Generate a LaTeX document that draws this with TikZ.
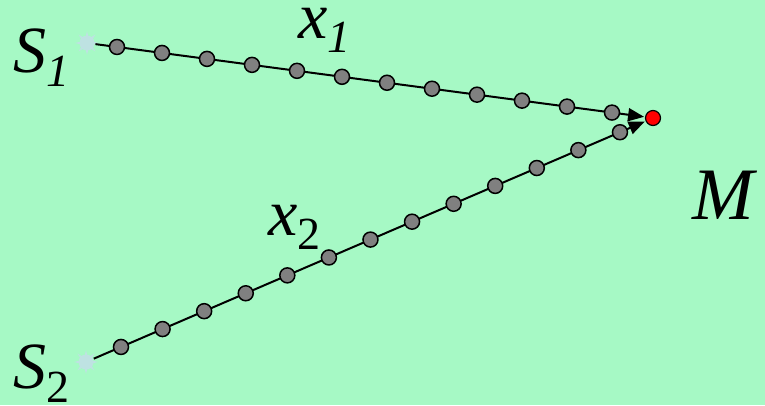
\documentclass[tikz,border=0pt]{standalone}
\usepackage{fontspec}
\setmainfont{Liberation Serif}
\usetikzlibrary{calc,arrows.meta}
\definecolor{bg}{RGB}{166,249,197}
\definecolor{starc}{RGB}{190,226,226}
\definecolor{dotc}{RGB}{128,128,128}
\tikzset{
  lab/.style={inner sep=0pt, font=\fontsize{66}{66}\selectfont},
  src/.style={circle, fill=starc, minimum size=15pt, inner sep=0pt, outer sep=1pt},
  bead/.style={circle, draw=black, line width=1.5pt, fill=dotc, minimum size=15pt, inner sep=0pt},
  ray/.style={fill=starc},
  conn/.style={draw=black, line width=2pt, -{Triangle[length=16pt,width=13pt]}},
  target/.style={circle, draw=black, line width=1.2pt, fill=red, minimum size=15pt, inner sep=0pt, outer sep=1.5pt}
}
\newcommand{\sub}[1]{\raisebox{-14pt}{\fontsize{46}{46}\selectfont #1}}
\begin{document}
\begin{tikzpicture}[x=1pt,y=-1pt]
\fill[bg] (0,0) rectangle (765,405);
\useasboundingbox (0,0) rectangle (765,405);
% sources
\foreach \n/\px/\py in {s1/87/43, s2/86/362}{
  \foreach \a in {0,45,...,315}{
    \fill[ray] ($(\px,\py)+(\a+14:6)$) -- ($(\px,\py)+(\a:12)$) -- ($(\px,\py)+(\a-14:6)$) -- cycle;
  }
  \node[src] (\n) at (\px,\py) {};
}
\node[target] (m) at (653,118) {};
% connectors
\draw[conn] (s1) -- (m);
\draw[conn] (s2) -- (m);
% beads
\foreach \k in {0,...,11}{
  \pgfmathsetmacro{\t}{(30+45*\k)/566}
  \node[bead] (a\k) at ($(s1.center)!\t!(m.center)$) {};
}
\foreach \k in {0,...,12}{
  \pgfmathsetmacro{\t}{(35+41.58*\k)/567}
  \node[bead] (b\k) at ($(s2.center)!\t!(m.center)$) {};
}
% labels
\node[lab, anchor=base west] (ls1) at (13,72) {\textit{S}\sub{\textit{1}}};
\node[lab, anchor=base west] (ls2) at (13,388) {\textit{S}\sub{2}};
\node[lab, anchor=base west] (lx1) at (298,38) {\textit{x}\sub{\textit{1}}};
\node[lab, anchor=base west] (lx2) at (268,235) {\textit{x}\sub{2}};
\node[lab, anchor=base west, font=\fontsize{74}{74}\selectfont] (lm) at (692,219) {\textit{M}};
\end{tikzpicture}
\end{document}
